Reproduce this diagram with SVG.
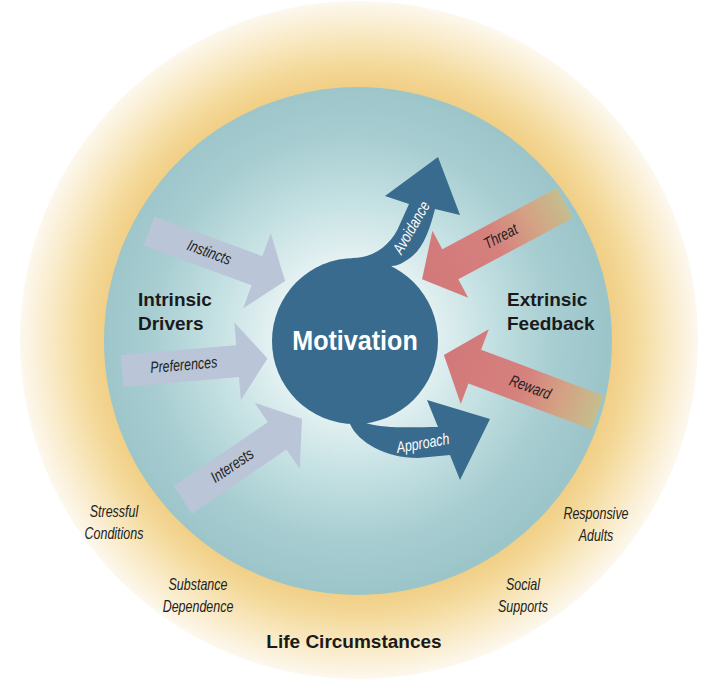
<svg xmlns="http://www.w3.org/2000/svg" width="719" height="680" viewBox="0 0 719 680">
  <defs>
    <radialGradient id="gOuter" gradientUnits="userSpaceOnUse" cx="359" cy="340" r="339">
      <stop offset="0" stop-color="#f1cf86"/>
      <stop offset="0.75" stop-color="#f1cf86"/>
      <stop offset="0.82" stop-color="#f4da9c"/>
      <stop offset="0.91" stop-color="#f9eac6"/>
      <stop offset="1" stop-color="#fdf8ee"/>
    </radialGradient>
    <radialGradient id="gInner" gradientUnits="userSpaceOnUse" cx="352" cy="338" r="254">
      <stop offset="0" stop-color="#ffffff"/>
      <stop offset="0.3" stop-color="#e6f2f3"/>
      <stop offset="0.55" stop-color="#c3e0e2"/>
      <stop offset="0.8" stop-color="#a7cdd1"/>
      <stop offset="1" stop-color="#9cc5ca"/>
    </radialGradient>
    <linearGradient id="gFeedback" gradientUnits="userSpaceOnUse" x1="0" y1="0" x2="160" y2="0">
      <stop offset="0" stop-color="#c5be8d"/>
      <stop offset="0.25" stop-color="#d4a184"/>
      <stop offset="0.5" stop-color="#d6817e"/>
      <stop offset="1" stop-color="#d2787a"/>
    </linearGradient>
  </defs>
  <style>
    .bold { font-family: "Liberation Sans", Arial, sans-serif; font-weight: bold; font-size: 19px; fill: #1a1a1a; }
    .ital { font-family: "Liberation Sans", Arial, sans-serif; font-style: italic; font-size: 16px; fill: #222222; text-anchor: middle; }
    .ital-w { font-family: "Liberation Sans", Arial, sans-serif; font-style: italic; font-size: 16px; fill: #ffffff; text-anchor: middle; }
    .driver { fill: #bac5d7; }
    .feedback { fill: url(#gFeedback); }
    .dark { fill: #386b8d; }
  </style>

  <g id="life-circumstances">
    <circle cx="359" cy="340" r="339" fill="url(#gOuter)"/>
    <text class="bold" x="354" y="648" text-anchor="middle">Life Circumstances</text>
    <g transform="translate(114,517) scale(0.78,1)"><text class="ital"><tspan x="0" y="0">Stressful</tspan><tspan x="0" y="22">Conditions</tspan></text></g>
    <g transform="translate(198,590) scale(0.78,1)"><text class="ital"><tspan x="0" y="0">Substance</tspan><tspan x="0" y="22">Dependence</tspan></text></g>
    <g transform="translate(596,519) scale(0.78,1)"><text class="ital"><tspan x="0" y="0">Responsive</tspan><tspan x="0" y="22">Adults</tspan></text></g>
    <g transform="translate(523,590) scale(0.78,1)"><text class="ital"><tspan x="0" y="0">Social</tspan><tspan x="0" y="22">Supports</tspan></text></g>
  </g>

  <g id="inner-field">
    <circle cx="358" cy="341" r="254" fill="url(#gInner)"/>
  </g>

  <g id="intrinsic-drivers">
    <text class="bold" x="138" y="306">Intrinsic</text>
    <text class="bold" x="138" y="330">Drivers</text>
  </g>

  <g id="extrinsic-feedback">
    <text class="bold" x="507" y="306">Extrinsic</text>
    <text class="bold" x="507" y="330">Feedback</text>
  </g>

  <g id="connectors">
    <g id="instincts" transform="translate(149,231) rotate(20.2)">
      <path class="driver" d="M0,-15.5 H115 V-40 L145,0 L115,40 V15.5 H0 Z"/>
      <text class="ital" transform="translate(64,4.5) scale(0.78,1)">Instincts</text>
    </g>
    <g id="preferences" transform="translate(122,371) rotate(-4.9)">
      <path class="driver" d="M0,-16 H116 V-39 L146,0 L116,39 V16 H0 Z"/>
      <text class="ital" transform="translate(62,4.5) scale(0.78,1)">Preferences</text>
    </g>
    <g id="interests" transform="translate(183,500) rotate(-34.3)">
      <path class="driver" d="M0,-16.5 H114 V-40 L144,0 L114,40 V16.5 H0 Z"/>
      <text class="ital" transform="translate(60,4.5) scale(0.78,1)">Interests</text>
    </g>
    <g id="threat">
      <path class="feedback" transform="translate(565,203) rotate(151.9)" d="M0,-17 H130 V-38 L162,0 L130,38 V17 H0 Z"/>
      <text class="ital" transform="translate(501,237) rotate(-28) translate(0,4.5) scale(0.78,1)">Threat</text>
    </g>
    <g id="reward">
      <path class="feedback" transform="translate(597.5,412.5) rotate(200.5)" d="M0,-18 H131 V-40 L164,0 L131,40 V18 H0 Z"/>
      <text class="ital" transform="translate(530,388) rotate(20.5) translate(0,4.5) scale(0.78,1)">Reward</text>
    </g>
    <g id="avoidance">
      <path class="dark" d="M352,258 C375,258 392,244 400,224 L409,204 L385,196 L438,157 L460,215 L435,209 C430,228 424,248 410,258 C403,263 397,266 392,266 L360,300 Z"/>
      <text class="ital-w" transform="translate(412,228) rotate(-60) translate(0,4.5) scale(0.78,1)">Avoidance</text>
    </g>
    <g id="approach">
      <path class="dark" d="M350,424 C358,442 385,458 418,458 L450,455 L460,480 L490,419 L427,400 L438,427 C415,427 385,429 366,423 L355,400 Z"/>
      <text class="ital-w" transform="translate(423,444) rotate(-10) translate(0,4.5) scale(0.78,1)">Approach</text>
    </g>
  </g>

  <g id="motivation">
    <circle class="dark" cx="355" cy="341" r="83"/>
    <text transform="translate(355,350) scale(0.93,1)" x="0" y="0" text-anchor="middle" font-family="Liberation Sans, Arial, sans-serif" font-weight="bold" font-size="27" fill="#ffffff">Motivation</text>
  </g>
</svg>
